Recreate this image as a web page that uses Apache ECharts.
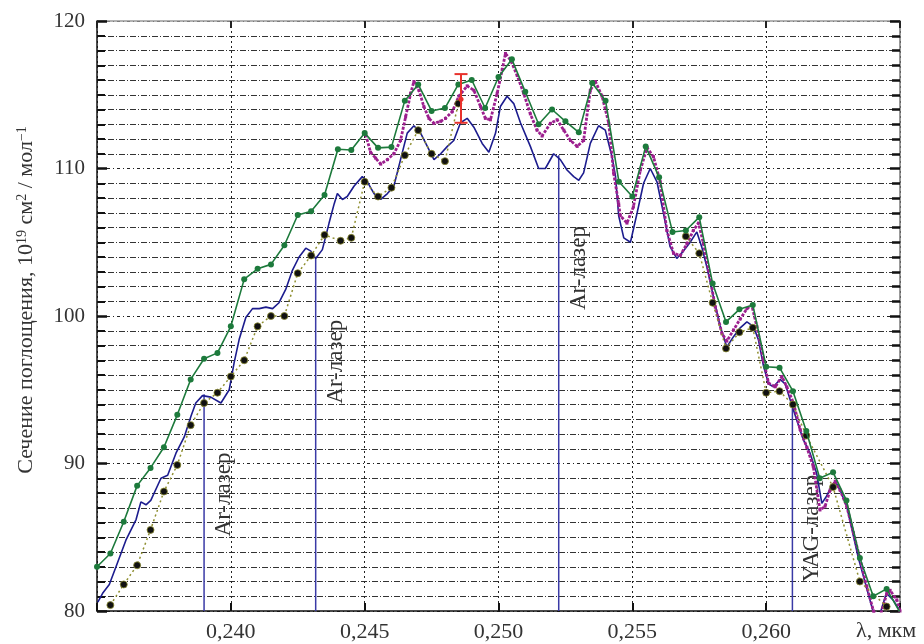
<!DOCTYPE html>
<html>
<head>
<meta charset="utf-8">
<script src="https://cdn.jsdelivr.net/npm/echarts@6/dist/echarts.min.js"></script>
<style>
  html, body { margin: 0; padding: 0; background: #fff; }
  #chart { width: 924px; height: 644px; }
</style>
</head>
<body>
<div id="chart"></div>
<script>
// Absorption cross-section spectra, wavelength in μm
const greenX = [0.2350,0.2355,0.2360,0.2365,0.2370,0.2375,0.2380,0.2385,0.2390,0.2395,
  0.2400,0.2405,0.2410,0.2415,0.2420,0.2425,0.2430,0.2435,0.2440,0.2445,
  0.2450,0.2455,0.2460,0.2465,0.2470,0.2475,0.2480,0.2485,0.2490,0.2495,
  0.2500,0.2505,0.2510,0.2515,0.2520,0.2525,0.2530,0.2535,0.2540,0.2545,
  0.2550,0.2555,0.2560,0.2565,0.2570,0.2575,0.2580,0.2585,0.2590,0.2595,
  0.2600,0.2605,0.2610,0.2615,0.2620,0.2625,0.2630,0.2635,0.2640,0.2645,0.2650];
const greenY = [83.0,83.9,86.05,88.5,89.7,91.1,93.3,95.7,97.1,97.5,
  99.3,102.5,103.2,103.5,104.8,106.85,107.1,108.2,111.3,111.25,
  112.4,111.4,111.45,114.6,115.7,113.9,114.1,115.7,116.0,114.1,
  116.2,117.4,115.2,113.0,114.0,113.2,112.45,115.8,114.6,109.1,
  108.1,111.5,109.4,105.7,105.8,106.7,102.2,99.6,100.45,100.75,
  96.56,96.5,94.9,92.2,89.0,89.4,87.5,83.6,81.0,81.5,79.9];

const blueX = [0.23503,0.23521,0.23546,0.23571,0.23608,0.23646,0.23664,0.23683,0.23701,0.23739,
  0.23764,0.23795,0.23826,0.23851,0.23869,0.23894,0.23925,0.23963,0.23994,0.24012,
  0.24031,0.24056,0.24081,0.24106,0.24131,0.24156,0.24180,0.24205,0.24230,0.24255,
  0.24280,0.24299,0.24317,0.24342,0.24367,0.24386,0.24398,0.24417,0.24435,0.24460,
  0.24491,0.24510,0.24535,0.24560,0.24585,0.24609,0.24634,0.24659,0.24684,0.24709,
  0.24734,0.24759,0.24784,0.24809,0.24833,0.24858,0.24883,0.24908,0.24939,0.24964,
  0.24989,0.25007,0.25032,0.25057,0.25082,0.25119,0.25150,0.25175,0.25206,0.25231,
  0.25256,0.25281,0.25300,0.25318,0.25343,0.25374,0.25399,0.25424,0.25437,0.25449,
  0.25468,0.25493,0.25518,0.25542,0.25567,0.25592,0.25616,0.25641,0.25666,0.25691,
  0.25716,0.25741,0.25759,0.25778,0.25803,0.25828,0.25853,0.25878,0.25903,0.25928,
  0.25952,0.25971,0.25990,0.26009,0.26027,0.26052,0.26071,0.26090,0.26115,0.26139,
  0.26164,0.26189,0.26208,0.26226,0.26245,0.26258,0.26276,0.26301,0.26343,0.26374,
  0.26399,0.26420,0.26449,0.26474,0.26500];
const blueY = [80.6,81.2,81.8,83.0,84.8,86.2,87.4,87.2,87.5,89.0,
  89.2,90.7,91.8,93.2,94.1,94.6,94.5,94.1,95.0,96.8,
  98.4,99.9,100.5,100.5,100.6,100.5,100.9,101.8,103.1,104.0,
  104.6,104.4,103.9,104.5,106.3,107.6,108.3,107.9,108.1,108.8,
  109.45,109.1,108.3,107.9,108.3,108.8,110.6,112.4,112.9,112.4,
  111.5,110.6,111.0,111.5,111.9,113.1,113.4,112.8,111.7,111.1,
  112.4,114.2,114.9,114.4,113.1,111.5,110.0,110.0,111.0,110.6,
  109.9,109.45,109.2,109.7,111.7,112.9,112.6,110.8,109.5,106.8,
  105.3,105.0,107.0,109.0,110.0,109.1,107.0,104.7,103.9,104.4,
  105.0,105.7,104.7,103.35,101.3,99.3,97.9,98.6,99.2,99.6,
  99.3,98.4,96.6,95.4,95.2,95.7,95.4,94.3,92.9,91.6,
  90.7,89.3,87.3,87.8,88.5,88.8,88.2,87.1,83.7,81.65,
  80.0,79.5,81.2,80.75,80.0];

const magentaX = [0.24504,0.24522,0.24541,0.24560,0.24585,0.24609,0.24634,0.24653,0.24672,0.24684,
  0.24703,0.24721,0.24740,0.24759,0.24784,0.24802,0.24827,0.24852,0.24883,0.24908,
  0.24933,0.24951,0.24970,0.24995,0.25014,0.25026,0.25045,0.25070,0.25094,0.25119,
  0.25144,0.25163,0.25194,0.25219,0.25244,0.25269,0.25294,0.25318,0.25343,0.25362,
  0.25387,0.25412,0.25430,0.25449,0.25455,0.25480,0.25504,0.25530,0.25555,0.25579,
  0.25604,0.25629,0.25654,0.25679,0.25704,0.25728,0.25747,0.25766,0.25785,0.25810,
  0.25835,0.25853,0.25878,0.25903,0.25928,0.25946,0.25965,0.25990,0.26009,0.26034,
  0.26059,0.26077,0.26102,0.26127,0.26152,0.26176,0.26201,0.26220,0.26239,0.26258,
  0.26276,0.26301,0.26326,0.26351,0.26376,0.26401,0.26422,0.26451,0.26463,0.26488,0.26500];
const magentaY = [112.3,111.1,110.7,110.3,110.6,111.0,111.9,113.5,115.1,115.9,
  115.3,114.2,113.4,113.06,113.2,113.4,113.85,114.9,115.6,115.3,
  114.2,113.4,113.3,115.1,116.7,117.8,117.35,116.3,115.1,113.7,
  112.6,112.2,113.06,113.3,112.6,111.9,111.5,111.9,115.3,115.9,
  114.9,113.06,109.7,107.6,106.8,106.3,107.4,109.9,111.4,110.8,
  109.1,105.8,104.25,104.1,104.9,105.8,106.3,104.9,103.1,100.6,
  98.8,98.3,99.05,99.8,100.5,100.75,99.3,97.0,95.45,95.2,
  95.9,95.2,94.1,92.3,91.1,89.8,86.85,87.1,88.2,88.8,
  88.2,87.1,85.3,83.5,81.65,80.0,79.4,81.2,81.4,80.75,80.0];

// measured points; null separates the two runs
const blackX = [0.2355,0.2360,0.2365,0.2370,0.2375,0.2380,0.2385,0.2390,0.2395,0.2400,
  0.2405,0.2410,0.2415,0.2420,0.2425,0.2430,0.2435,0.2441,0.2445,0.2450,
  0.2455,0.2460,0.2465,0.2470,0.2475,0.2480,0.2485,null,
  0.2570,0.2575,0.2580,0.2585,0.2590,0.2595,0.2600,0.2605,0.2610,0.2615,0.2625,0.2635,0.2645];
const blackY = [80.4,81.8,83.1,85.5,88.1,89.9,92.6,94.1,94.8,95.9,
  97.0,99.3,100.0,100.0,102.9,104.1,105.5,105.1,105.3,109.1,
  108.1,108.7,110.9,112.6,111.0,110.5,114.4,null,
  105.4,104.25,100.9,97.8,98.9,99.2,94.8,94.9,94.0,91.9,88.4,82.0,80.3];

// error bar
const errX = [0.2486];
const errLow = [113.1];
const errHigh = [116.4];
const errMid = [114.7];

// laser lines
const laserX = [0.2390, 0.24317, 0.25225, 0.26098];
const laserTop = [94.7, 103.9, 110.9, 94.0];
const laserText = ['Ar-лазер', 'Ar-лазер', 'Ar-лазер', 'YAG-лазер'];
const laserLabelAt = [87.9, 96.9, 103.25, 85.6];

// axis ticks
const xTicks = [0.240, 0.245, 0.250, 0.255, 0.260];
const yTicks = [80, 90, 100, 110, 120];

const FONT = 'Liberation Serif';
const pairs = (xs, ys) => xs.map((x, i) => (x == null || ys[i] == null) ? [null, null] : [x, ys[i]]);

const chart = echarts.init(document.getElementById('chart'), null, { renderer: 'canvas' });

const option = {
  animation: false,
  backgroundColor: '#fff',
  grid: { left: 97, right: 24, top: 21, bottom: 33, containLabel: false },
  xAxis: [
    {
      type: 'value', position: 'bottom', min: 0.235, max: 0.265, interval: 0.005,
      axisLine: { show: true, lineStyle: { color: '#111', width: 1.5 } },
      axisTick: { show: true, inside: true, length: 8, lineStyle: { color: '#111', width: 2 } },
      axisLabel: {
        fontFamily: FONT, fontSize: 22, color: '#333', margin: 10,
        formatter: v => xTicks.some(t => Math.abs(t - v) < 1e-6) ? v.toFixed(3).replace('.', ',') : ''
      },
      splitLine: { show: true, lineStyle: { color: '#222', width: 1, type: [2, 3] } }
    },
    {
      type: 'value', position: 'top', min: 0.235, max: 0.265, interval: 0.005,
      axisLine: { show: true, lineStyle: { color: '#999', width: 1.5 } },
      axisTick: { show: true, inside: true, length: 7, lineStyle: { color: '#222', width: 2 } },
      axisLabel: { show: false },
      splitLine: { show: false }
    }
  ],
  yAxis: [
    {
      type: 'value', position: 'left', min: 80, max: 120, interval: 10,
      axisLine: { show: true, lineStyle: { color: '#111', width: 1.5 } },
      axisTick: { show: true, inside: true, length: 10, lineStyle: { color: '#111', width: 2.5 } },
      minorTick: { show: true, splitNumber: 10, length: 8, lineStyle: { color: '#111', width: 2 } },
      axisLabel: {
        fontFamily: FONT, fontSize: 21, color: '#333', margin: 12,
        formatter: v => yTicks.includes(v) ? String(v) : ''
      },
      splitLine: { show: true, lineStyle: { color: '#222', width: 1, type: [3, 3, 1, 3] } },
      minorSplitLine: { show: true, lineStyle: { color: '#333', width: 1, type: [6, 2, 1, 2] } }
    },
    {
      type: 'value', position: 'right', min: 80, max: 120, interval: 10,
      axisLine: { show: true, lineStyle: { color: '#777', width: 1.5 } },
      axisTick: { show: true, inside: true, length: 10, lineStyle: { color: '#111', width: 2.5 } },
      minorTick: { show: true, splitNumber: 10, length: 8, lineStyle: { color: '#111', width: 2.5 } },
      axisLabel: { show: false },
      splitLine: { show: false }
    }
  ],
  graphic: [
    {
      type: 'text', x: 26, y: 300, rotation: Math.PI / 2,
      style: {
        text: 'Сечение поглощения, 10{s|19} см{s|2} / мол{s|−1}',
        fontFamily: FONT, fontSize: 22, fill: '#333',
        align: 'center', verticalAlign: 'middle',
        rich: { s: { fontFamily: FONT, fontSize: 14, verticalAlign: 'top', fill: '#333' } }
      }
    },
    {
      type: 'text', x: 856, y: 631,
      style: { text: 'λ, мкм', fontFamily: FONT, fontSize: 22, fill: '#333', align: 'left', verticalAlign: 'middle' }
    }
  ],
  series: [
    {
      type: 'custom', name: 'lasers', z: 1,
      data: laserX.map((x, i) => [x, laserTop[i], laserLabelAt[i], i]),
      renderItem: (params, api) => {
        const x = api.value(0), top = api.value(1), at = api.value(2), idx = api.value(3);
        const p0 = api.coord([x, 80]);
        const p1 = api.coord([x, top]);
        const pl = api.coord([x, at]);
        return {
          type: 'group',
          children: [
            { type: 'line', shape: { x1: p0[0], y1: p0[1], x2: p1[0], y2: p1[1] },
              style: { stroke: '#3a3aa6', lineWidth: 1.5 } },
            { type: 'text', x: pl[0] + 20, y: pl[1], rotation: Math.PI / 2,
              style: { text: laserText[idx], fontFamily: FONT, fontSize: 23, fill: '#333',
                       align: 'center', verticalAlign: 'middle' } }
          ]
        };
      }
    },
    {
      type: 'line', name: 'blue', z: 2,
      data: pairs(blueX, blueY),
      showSymbol: false, symbol: 'none',
      lineStyle: { color: '#1c1c8e', width: 1.6 },
      clip: true
    },
    {
      type: 'line', name: 'magenta', z: 3,
      data: pairs(magentaX, magentaY),
      symbol: 'rect', symbolSize: 3, showSymbol: true,
      itemStyle: { color: '#9c1f8e' },
      lineStyle: { color: '#9c1f8e', width: 2.8, type: [3, 1.5] },
      clip: true
    },
    {
      type: 'line', name: 'black', z: 4,
      data: pairs(blackX, blackY),
      connectNulls: false,
      symbol: 'circle', symbolSize: 7, showSymbol: true,
      itemStyle: { color: '#111', borderColor: '#8a8a30', borderWidth: 0.8 },
      lineStyle: { color: '#8f8f30', width: 1.5, type: [2, 3] },
      clip: true
    },
    {
      type: 'line', name: 'green', z: 5,
      data: pairs(greenX, greenY),
      symbol: 'circle', symbolSize: 6, showSymbol: true,
      itemStyle: { color: '#1d7a3c' },
      lineStyle: { color: '#1d7a3c', width: 1.6 },
      clip: true
    },
    {
      type: 'custom', name: 'error', z: 6,
      data: errX.map((x, i) => [x, errLow[i], errHigh[i], errMid[i]]),
      renderItem: (params, api) => {
        const x = api.value(0);
        const pL = api.coord([x, api.value(1)]);
        const pH = api.coord([x, api.value(2)]);
        const pM = api.coord([x, api.value(3)]);
        const w = 6.5, st = { stroke: '#e8322c', lineWidth: 2 };
        return {
          type: 'group',
          children: [
            { type: 'line', shape: { x1: pL[0], y1: pL[1], x2: pH[0], y2: pH[1] }, style: st },
            { type: 'line', shape: { x1: pL[0] - w, y1: pL[1], x2: pL[0] + w, y2: pL[1] }, style: st },
            { type: 'line', shape: { x1: pH[0] - w, y1: pH[1], x2: pH[0] + w, y2: pH[1] }, style: st },
            { type: 'circle', shape: { cx: pM[0], cy: pM[1], r: 2.5 }, style: { fill: '#e8322c' } }
          ]
        };
      }
    }
  ]
};

chart.setOption(option);
</script>
</body>
</html>
